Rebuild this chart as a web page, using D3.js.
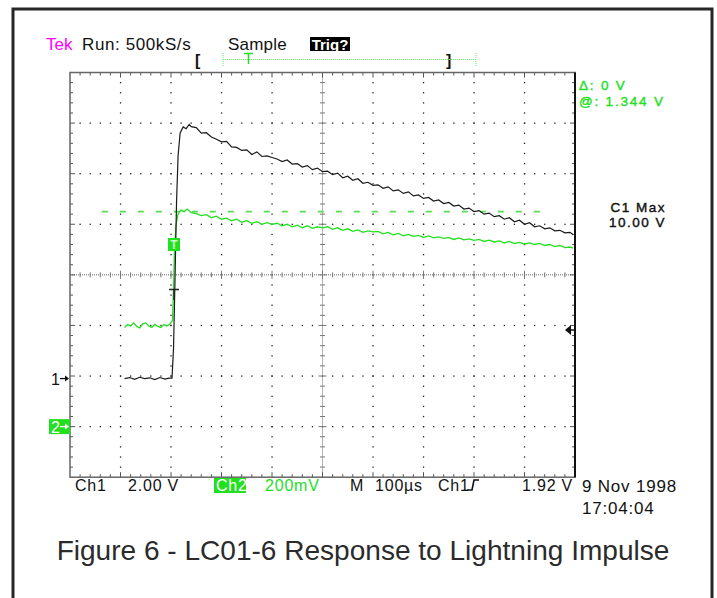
<!DOCTYPE html>
<html>
<head>
<meta charset="utf-8">
<script src="https://cdn.jsdelivr.net/npm/d3@7"></script>
<style>
  body { margin: 0; background: #fff; }
  svg { display: block; }
  text { font-family: "Liberation Sans", Arial, sans-serif; }
</style>
</head>
<body>
<svg id="main" width="717" height="598"></svg>
<script>
// ---- data ----
// time in µs (trigger at 0), volts per channel
const ch1Time = [-92, -82, -72, -62, -52, -42, -32, -22, -12, -4, 2, 5, 8, 11, 14, 18, 24, 30, 36,
  40, 50, 60, 70, 80, 90, 100, 110, 120, 130, 140, 150, 160, 170, 180, 190, 200,
  210, 220, 230, 240, 250, 260, 270, 280, 290, 300, 310, 320, 330, 340, 350, 360,
  370, 380, 390, 400, 410, 420, 430, 440, 450, 460, 470, 480, 490, 500, 510, 520,
  530, 540, 550, 560, 570, 580, 590, 600, 610, 620, 630, 640, 650, 660, 670, 680,
  690, 700, 710, 720, 730, 740, 750, 760, 770, 780, 790, 796];
const ch1Volts = [0.00, 0.04, -0.03, 0.05, 0.00, 0.03, -0.04, 0.04, -0.02, 0.02, 0.02, 1.2, 4.0, 7.0, 8.8, 9.7, 9.95, 9.88, 10.05,
  9.96, 9.92, 9.70, 9.72, 9.55, 9.46, 9.36, 9.38, 9.16, 9.14, 9.02, 9.04, 8.86, 8.96, 8.78, 8.80, 8.74,
  8.68, 8.58, 8.64, 8.48, 8.50, 8.36, 8.42, 8.26, 8.32, 8.18, 8.20, 8.06, 8.12, 7.94, 8.00, 7.84,
  7.90, 7.72, 7.76, 7.64, 7.66, 7.52, 7.58, 7.42, 7.46, 7.32, 7.38, 7.22, 7.26, 7.12, 7.16, 7.02,
  7.06, 6.92, 6.96, 6.82, 6.86, 6.70, 6.74, 6.60, 6.64, 6.50, 6.54, 6.40, 6.44, 6.30, 6.36, 6.20,
  6.26, 6.10, 6.16, 6.00, 6.04, 5.92, 5.96, 5.84, 5.86, 5.76, 5.78, 5.70];

const ch2Time = [-92, -86, -80, -74, -68, -62, -56, -50, -44, -38, -32, -26, -20, -14, -8, -2, 3, 5, 7, 10, 14, 20, 26, 32,
  40, 50, 60, 70, 80, 90, 100, 110, 120, 130, 140, 150, 160, 170, 180, 190, 200,
  210, 220, 230, 240, 250, 260, 270, 280, 290, 300, 310, 320, 330, 340, 350, 360,
  370, 380, 390, 400, 410, 420, 430, 440, 450, 460, 470, 480, 490, 500, 510, 520,
  530, 540, 550, 560, 570, 580, 590, 600, 610, 620, 630, 640, 650, 660, 670, 680,
  690, 700, 710, 720, 730, 740, 750, 760, 770, 780, 790, 796];
const ch2Volts = [0.392, 0.404, 0.398, 0.410, 0.396, 0.390, 0.406, 0.410, 0.398, 0.392, 0.404, 0.396, 0.392, 0.404, 0.398, 0.406, 0.420, 0.550, 0.700, 0.800, 0.840, 0.856, 0.850, 0.860,
  0.846, 0.842, 0.834, 0.838, 0.826, 0.832, 0.820, 0.824, 0.814, 0.820, 0.808, 0.814, 0.804, 0.810, 0.800, 0.806, 0.800,
  0.804, 0.794, 0.800, 0.790, 0.796, 0.786, 0.794, 0.784, 0.790, 0.786, 0.790, 0.780, 0.786, 0.776, 0.782, 0.772,
  0.778, 0.768, 0.774, 0.770, 0.772, 0.762, 0.768, 0.758, 0.764, 0.754, 0.760, 0.752, 0.756, 0.748, 0.754, 0.746,
  0.750, 0.744, 0.748, 0.740, 0.746, 0.738, 0.742, 0.736, 0.740, 0.732, 0.737, 0.730, 0.734, 0.726, 0.732, 0.724,
  0.728, 0.722, 0.726, 0.720, 0.724, 0.716, 0.720, 0.712, 0.716, 0.708, 0.710, 0.706];

// scope settings
const timeDomain = [-200, 800];     // µs across 10 divisions
const ch1VoltsPerDiv = 2.0;
const ch2VoltsPerDiv = 0.2;
const ch1GroundDiv = -2.05;          // ground marker "1" in divisions from centre
const ch2GroundDiv = -3;             // ground marker "2"
const triggerLevel = 1.92;           // Ch1 volts
const cursorLevel = 0.85;            // Ch2 volts (dashed cursor)
const cursorStart = -137;            // µs where the dashed cursor begins
const cursorEnd = 742;

// texts
const headerLabels = ["Run: 500kS/s", "Sample", "Trig?"];
const readoutLabels = ["\u0394: 0 V", "@: 1.344 V"];
const maxLabels = ["C1 Max", "10.00 V"];
const footerLabels = ["Ch1", "2.00 V", "Ch2", "200mV", "M", "100\u00b5s", "Ch1", "1.92 V"];
const dateLabels = ["9 Nov 1998", "17:04:04"];
const caption = "Figure 6 - LC01-6 Response to Lightning Impulse";

const green = "#22e01f";

let svg = d3.select('#main');

// page frame
svg.append('rect')
  .attr('x', 13).attr('y', 9)
  .attr('width', 699).attr('height', 620)
  .style('fill', 'none').style('stroke', '#262626').style('stroke-width', 3);

// graticule geometry
let pLeft = 70, pRight = 575, pTop = 72.5, pBottom = 477.2;
let x = d3.scaleLinear().domain(timeDomain).range([pLeft, pRight]);
let yDiv = d3.scaleLinear().domain([-4, 4]).range([pBottom, pTop]);
let y1 = v => yDiv(v / ch1VoltsPerDiv + ch1GroundDiv);
let y2 = v => yDiv(v / ch2VoltsPerDiv + ch2GroundDiv);

let grid = svg.append('g').attr('class', 'grid');
let dx = (pRight - pLeft) / 50, dy = (pBottom - pTop) / 40;

// dotted grid lines (a dot at every minor step)
d3.range(1, 10).filter(i => i !== 5).forEach(i => {
  let gx = pLeft + i * 5 * dx;
  grid.selectAll(null).data(d3.range(1, 40)).join('rect')
    .attr('x', gx - 0.6).attr('y', k => pTop + k * dy - 0.6)
    .attr('width', 1.3).attr('height', 1.3).style('fill', '#222');
});
d3.range(1, 8).filter(i => i !== 4).forEach(i => {
  let gy = pTop + i * 5 * dy;
  grid.selectAll(null).data(d3.range(1, 50)).join('rect')
    .attr('x', k => pLeft + k * dx - 0.6).attr('y', gy - 0.6)
    .attr('width', 1.3).attr('height', 1.3).style('fill', '#222');
});

// centre cross
let cx = pLeft + 25 * dx, cy = pTop + 20 * dy;
grid.append('line').attr('x1', pLeft).attr('x2', pRight).attr('y1', cy).attr('y2', cy)
  .style('stroke', '#666').style('stroke-dasharray', '1 1');
grid.append('line').attr('y1', pTop).attr('y2', pBottom).attr('x1', cx).attr('x2', cx)
  .style('stroke', '#666').style('stroke-dasharray', '1 1');
grid.selectAll(null).data(d3.range(1, 50)).join('line')
  .attr('x1', k => pLeft + k * dx).attr('x2', k => pLeft + k * dx)
  .attr('y1', k => cy - (k % 5 ? 2.5 : 4)).attr('y2', k => cy + (k % 5 ? 2.5 : 4))
  .style('stroke', '#777');
grid.selectAll(null).data(d3.range(1, 40)).join('line')
  .attr('y1', k => pTop + k * dy).attr('y2', k => pTop + k * dy)
  .attr('x1', k => cx - (k % 5 ? 2.5 : 4)).attr('x2', k => cx + (k % 5 ? 2.5 : 4))
  .style('stroke', '#777');

// border ticks
grid.selectAll(null).data(d3.range(1, 50)).join('line')
  .attr('x1', k => pLeft + k * dx).attr('x2', k => pLeft + k * dx)
  .attr('y1', pTop).attr('y2', k => pTop + (k % 5 ? 3 : 5))
  .style('stroke', '#555');
grid.selectAll(null).data(d3.range(1, 50)).join('line')
  .attr('x1', k => pLeft + k * dx).attr('x2', k => pLeft + k * dx)
  .attr('y1', pBottom).attr('y2', k => pBottom - (k % 5 ? 3 : 5))
  .style('stroke', '#555');
grid.selectAll(null).data(d3.range(1, 40)).join('line')
  .attr('y1', k => pTop + k * dy).attr('y2', k => pTop + k * dy)
  .attr('x1', pLeft).attr('x2', k => pLeft + (k % 5 ? 3 : 5))
  .style('stroke', '#555');
grid.selectAll(null).data(d3.range(1, 40)).join('line')
  .attr('y1', k => pTop + k * dy).attr('y2', k => pTop + k * dy)
  .attr('x1', pRight).attr('x2', k => pRight - (k % 5 ? 3 : 5))
  .style('stroke', '#555');

// graticule border
grid.append('rect').attr('x', pLeft).attr('y', pTop)
  .attr('width', pRight - pLeft).attr('height', pBottom - pTop)
  .style('fill', 'none').style('stroke', '#666').style('stroke-width', 1.5);
grid.append('line').attr('x1', pRight).attr('x2', pRight).attr('y1', pTop).attr('y2', pBottom)
  .style('stroke', '#111').style('stroke-width', 2);

// dashed cursor on Ch2
svg.append('line')
  .attr('x1', x(cursorStart)).attr('x2', x(cursorEnd))
  .attr('y1', y2(cursorLevel)).attr('y2', y2(cursorLevel))
  .style('stroke', '#55dd55').style('stroke-width', 1.6).style('stroke-dasharray', '6 12');

// traces
let ch1 = ch1Time.map((t, i) => [t, ch1Volts[i]]);
let ch2 = ch2Time.map((t, i) => [t, ch2Volts[i]]);

svg.append('path').datum(ch2)
  .attr('d', d3.line().x(d => x(d[0])).y(d => y2(d[1])))
  .style('fill', 'none').style('stroke', green).style('stroke-width', 1.3);
svg.append('path').datum(ch1)
  .attr('d', d3.line().x(d => x(d[0])).y(d => y1(d[1])))
  .style('fill', 'none').style('stroke', '#1a1a1a').style('stroke-width', 1.2);

// trigger point markers
let tx = x(4);
svg.append('rect').attr('x', tx - 5).attr('y', 238).attr('width', 12).attr('height', 13)
  .style('fill', green);
svg.append('text').attr('x', tx + 1).attr('y', 249).attr('text-anchor', 'middle')
  .style('font-size', '12px').style('font-weight', 'bold').style('fill', '#c8ffc8').text('T');
svg.append('line').attr('x1', tx - 4).attr('x2', tx + 6).attr('y1', 289.5).attr('y2', 289.5)
  .style('stroke', '#222').style('stroke-width', 1.5);
svg.append('line').attr('x1', tx + 1).attr('x2', tx + 1).attr('y1', 289.5).attr('y2', 300)
  .style('stroke', '#222').style('stroke-width', 1.5);

// trigger level arrow on right edge
let ty = y1(triggerLevel);
svg.append('path')
  .attr('d', `M${pRight - 10},${ty} L${pRight - 4},${ty - 5} L${pRight - 4},${ty + 5} Z`)
  .style('fill', '#111');
svg.append('line').attr('x1', pRight - 5).attr('x2', pRight).attr('y1', ty).attr('y2', ty)
  .style('stroke', '#111').style('stroke-width', 1.5);

// ground markers
function arrow(g, xa, ya, col) {
  g.append('line').attr('x1', xa).attr('x2', xa + 8).attr('y1', ya).attr('y2', ya)
    .style('stroke', col).style('stroke-width', 1.3);
  g.append('path').attr('d', `M${xa + 9},${ya} L${xa + 5},${ya - 3} L${xa + 5},${ya + 3} Z`)
    .style('fill', col);
}
let g1 = yDiv(ch1GroundDiv), g2 = yDiv(ch2GroundDiv);
svg.append('text').attr('x', 51).attr('y', g1 + 6)
  .style('font-size', '16px').style('fill', '#111').text('1');
arrow(svg, 60, g1, '#111');
svg.append('rect').attr('x', 49).attr('y', g2 - 7.5)
  .attr('width', 21).attr('height', 15).style('fill', green);
svg.append('text').attr('x', 51).attr('y', g2 + 6)
  .style('font-size', '16px').style('fill', '#fff').text('2');
arrow(svg, 60, g2, '#fff');

// header
let hdr = svg.append('g').style('font-size', '17px');
hdr.append('text').attr('x', 46).attr('y', 50).style('fill', '#ff00ff').text('Tek');
hdr.append('text').attr('x', 82).attr('y', 50).style('fill', '#111').style('letter-spacing', '0.6px').text(headerLabels[0]);
hdr.append('text').attr('x', 228).attr('y', 50).style('fill', '#111').style('letter-spacing', '0.2px').text(headerLabels[1]);
hdr.append('rect').attr('x', 310).attr('y', 37).attr('width', 40).attr('height', 14).style('fill', '#000');
hdr.append('text').attr('x', 330).attr('y', 50).attr('text-anchor', 'middle')
  .style('fill', '#fff').style('font-weight', 'bold').style('font-size', '15px').text(headerLabels[2]);

// record-length bar
svg.append('text').attr('x', 195).attr('y', 66).style('font-size', '16px').style('font-weight', 'bold').style('fill', '#111').text('[');
svg.append('text').attr('x', 446).attr('y', 66).style('font-size', '16px').style('font-weight', 'bold').style('fill', '#111').text(']');
svg.append('line').attr('x1', 223).attr('x2', 476).attr('y1', 59.5).attr('y2', 59.5)
  .style('stroke', '#66ee66').style('stroke-dasharray', '1 1');
[223, 476].forEach(v => svg.append('line').attr('x1', v).attr('x2', v).attr('y1', 53).attr('y2', 66)
  .style('stroke', '#66ee66').style('stroke-dasharray', '1 1'));
svg.append('line').attr('x1', 244).attr('x2', 253).attr('y1', 53.5).attr('y2', 53.5).style('stroke', green).style('stroke-width', 1.5);
svg.append('line').attr('x1', 248.5).attr('x2', 248.5).attr('y1', 53).attr('y2', 64).style('stroke', green).style('stroke-width', 1.5);

// right-side readouts (wide scope font: small size, open spacing, heavier strokes)
let ro = svg.append('g').style('font-size', '13.5px').style('letter-spacing', '1.8px')
  .style('stroke-width', 0.4);
ro.selectAll(null).data(readoutLabels).join('text')
  .attr('x', 579).attr('y', (d, i) => 90 + i * 15.7)
  .style('fill', green).style('stroke', green).text(d => d);
ro.selectAll(null).data(maxLabels).join('text')
  .attr('x', 666).attr('text-anchor', 'end').attr('y', (d, i) => 212 + i * 15)
  .style('font-size', '13.5px').style('letter-spacing', '1.5px')
  .style('fill', '#111').style('stroke', '#111').text(d => d);

// footer readouts
svg.append('rect').attr('x', 214).attr('y', 478).attr('width', 32).attr('height', 15).style('fill', green);
let ft = svg.append('g').style('font-size', '16px').style('letter-spacing', '0.8px');
let footerX = [75, 128, 216, 265, 350, 375, 438, 522];
ft.selectAll(null).data(footerLabels).join('text')
  .attr('x', (d, i) => footerX[i]).attr('y', 491)
  .style('fill', (d, i) => i === 2 ? '#fff' : i === 3 ? green : '#111')
  .text(d => d);
// rising-edge slope symbol
ft.append('path').attr('d', 'M467,490 L472,490 L474,480 L479,480')
  .style('fill', 'none').style('stroke', '#111').style('stroke-width', 1.6);
ft.selectAll(null).data(dateLabels).join('text')
  .attr('x', 582).attr('y', (d, i) => 492 + i * 22)
  .style('font-size', '17px').style('fill', '#111').text(d => d);

// caption
let cap = svg.append('text').attr('x', 363).attr('y', 560).attr('text-anchor', 'middle')
  .style('font-size', '25px').style('fill', '#2b2b2b').text(caption);
let w = cap.node().getComputedTextLength();
cap.style('font-size', (25 * 613 / w).toFixed(2) + 'px');
</script>
</body>
</html>
